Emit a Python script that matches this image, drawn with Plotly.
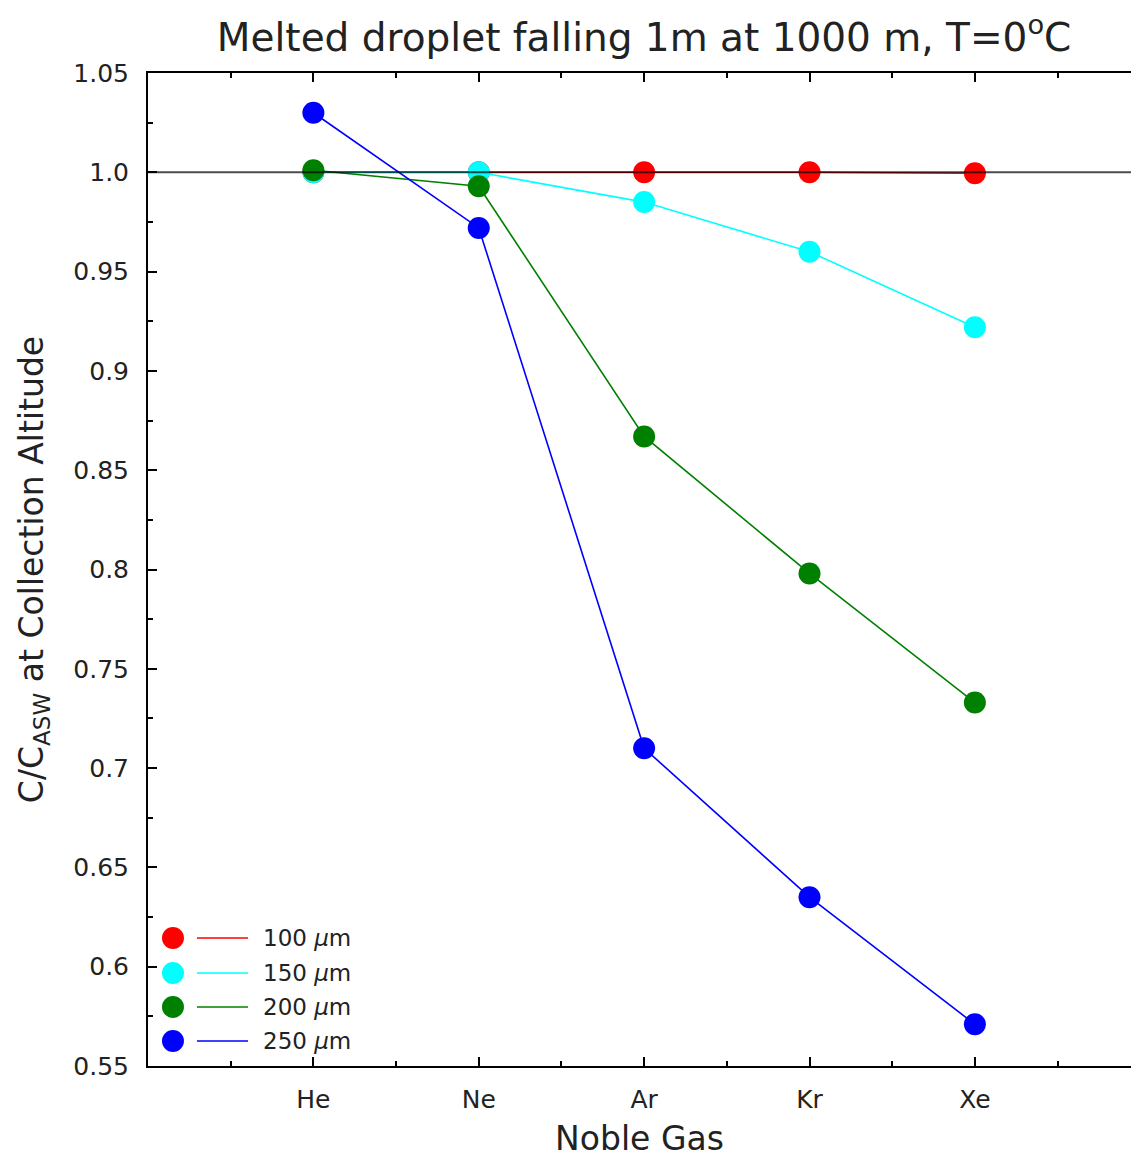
import plotly.graph_objects as go

# Noble gases on the x axis (positioned at 1..5)
gases = ["He", "Ne", "Ar", "Kr", "Xe"]
gas_pos = [1, 2, 3, 4, 5]

# Concentration ratio C/C_ASW at collection altitude, per droplet radius
ratio_100um = [1.000, 1.000, 1.000, 1.000, 0.9995]
ratio_150um = [1.000, 1.000, 0.985, 0.960, 0.922]
ratio_200um = [1.001, 0.993, 0.867, 0.798, 0.733]
ratio_250um = [1.030, 0.972, 0.710, 0.635, 0.571]

series_labels = ["100 <i>μ</i>m", "150 <i>μ</i>m", "200 <i>μ</i>m", "250 <i>μ</i>m"]
series_values = [ratio_100um, ratio_150um, ratio_200um, ratio_250um]
series_colors = ["#ff0000", "#00ffff", "#008000", "#0000ff"]

y_ticks = [0.55, 0.6, 0.65, 0.7, 0.75, 0.8, 0.85, 0.9, 0.95, 1.0, 1.05]
y_tick_text = ["0.55", "0.6", "0.65", "0.7", "0.75", "0.8", "0.85", "0.9", "0.95", "1.0", "1.05"]

FONT = "DejaVu Sans"
TXT = "#222222"

fig = go.Figure()

for vals, col in zip(series_values, series_colors):
    fig.add_trace(go.Scatter(
        x=gas_pos, y=vals, mode="lines+markers",
        line=dict(color=col, width=1.6),
        marker=dict(color=col, size=22, line=dict(width=0)),
        showlegend=False, hoverinfo="skip",
    ))

# Key in the lower-left corner: dot, short line sample, label
key_rows = [0.1289, 0.0937, 0.0594, 0.0252]
for row_y, lab, col in zip(key_rows, series_labels, series_colors):
    fig.add_shape(
        type="circle", xref="paper", yref="paper",
        xsizemode="pixel", ysizemode="pixel", xanchor=0.0254, yanchor=row_y,
        x0=-11, x1=11, y0=-11, y1=11,
        fillcolor=col, line=dict(width=0), layer="above",
    )
    fig.add_shape(
        type="line", xref="paper", yref="paper",
        x0=0.0498, x1=0.1017, y0=row_y, y1=row_y,
        line=dict(color=col, width=1.6), layer="above",
    )
    fig.add_annotation(
        xref="paper", yref="paper", x=0.115, y=row_y,
        xanchor="left", yanchor="middle", showarrow=False,
        text=lab, font=dict(family=FONT, size=23, color=TXT),
    )

# Reference line at C/C_ASW = 1
fig.add_shape(type="line", xref="paper", x0=0, x1=1, yref="y", y0=1.0, y1=1.0,
              line=dict(color="rgba(0,0,0,0.7)", width=2), layer="above")

fig.update_layout(
    width=1131, height=1161,
    margin=dict(l=148, r=0, t=73, b=95),
    paper_bgcolor="white", plot_bgcolor="white",
    title=dict(text="Melted droplet falling 1m at 1000 m, T=0<sup>o</sup>C",
               x=0.5695, xanchor="center", y=0.968, yanchor="middle",
               font=dict(family=FONT, size=39, color=TXT)),
    xaxis=dict(
        range=[0, 5.944], tickmode="array", tickvals=gas_pos, ticktext=gases,
        showgrid=False, zeroline=False,
        showline=True, linecolor="black", linewidth=2, mirror="ticks",
        ticks="inside", ticklen=9, tickwidth=1.5, tickcolor="black",
        minor=dict(tick0=0, dtick=0.5, ticks="inside", ticklen=5, tickwidth=1.5,
                   tickcolor="black", showgrid=False),
        tickfont=dict(family=FONT, size=25, color=TXT),
        ticklabelstandoff=10,
        title=dict(text="Noble Gas", font=dict(family=FONT, size=33, color=TXT), standoff=14),
    ),
    yaxis=dict(
        range=[0.55, 1.05], tickmode="array", tickvals=y_ticks, ticktext=y_tick_text,
        showgrid=False, zeroline=False,
        showline=True, linecolor="black", linewidth=2, mirror=False,
        ticks="inside", ticklen=9, tickwidth=1.5, tickcolor="black",
        minor=dict(tick0=0.55, dtick=0.025, ticks="inside", ticklen=5, tickwidth=1.5,
                   tickcolor="black", showgrid=False),
        tickfont=dict(family=FONT, size=25, color=TXT),
        ticklabelstandoff=12,
        title=dict(text="C/C<sub>ASW</sub> at Collection Altitude",
                   font=dict(family=FONT, size=33, color=TXT), standoff=20),
    ),
)

fig.write_html("out.html")
